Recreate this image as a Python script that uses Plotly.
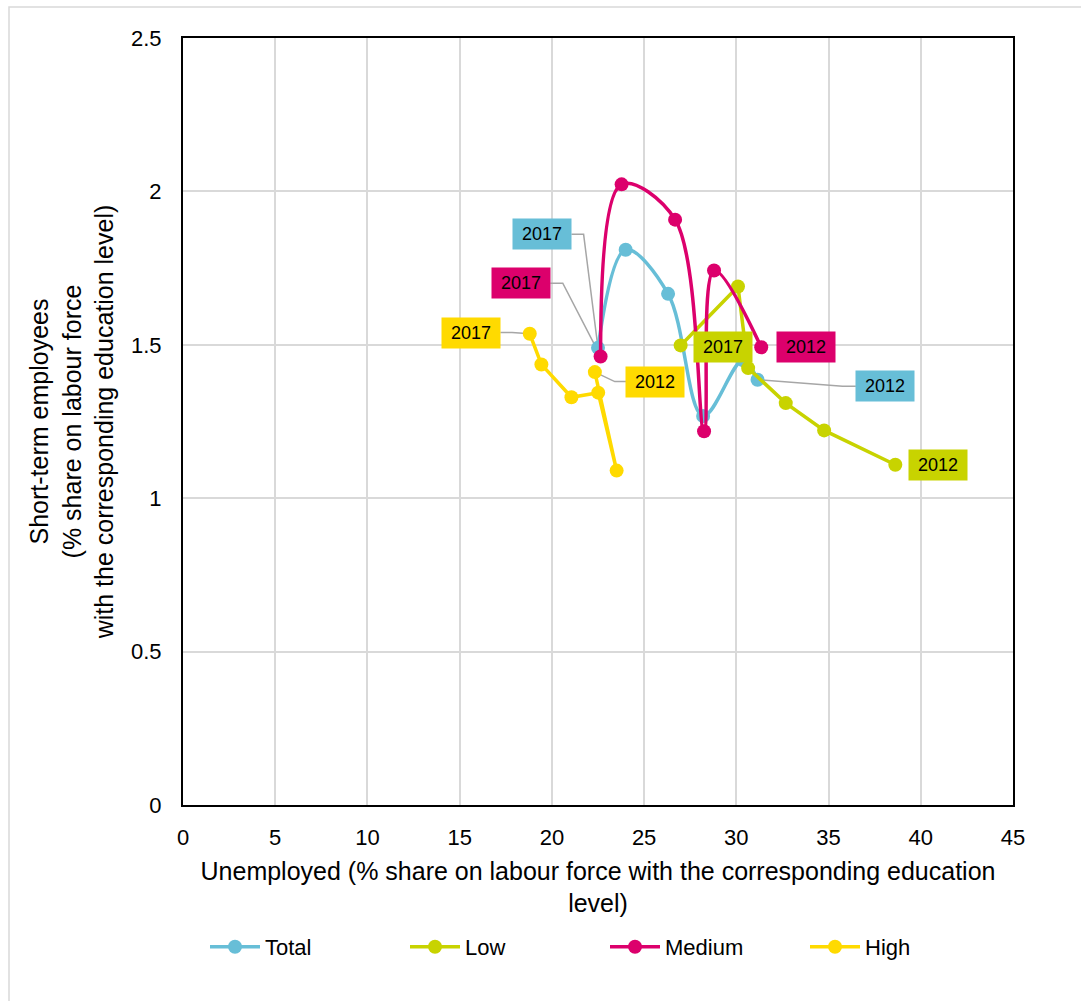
import plotly.graph_objects as go

# ---- data (years 2012 .. 2017) ----
years = [2012, 2013, 2014, 2015, 2016, 2017]
total_x = [31.15, 30.35, 28.2, 26.3, 24.0, 22.5]
total_y = [1.386, 1.45, 1.268, 1.666, 1.81, 1.49]
low_x = [38.62, 34.76, 32.68, 30.64, 30.09, 26.98]
low_y = [1.109, 1.221, 1.31, 1.424, 1.69, 1.498]
medium_x = [31.35, 28.79, 28.25, 26.68, 23.78, 22.64]
medium_y = [1.492, 1.742, 1.218, 1.908, 2.023, 1.462]
high_x = [22.33, 23.51, 22.51, 21.06, 19.43, 18.8]
high_y = [1.411, 1.090, 1.344, 1.329, 1.436, 1.536]

series_names = ["Total", "Low", "Medium", "High"]
colors = {"Total": "#67BED7", "Low": "#C8D300", "Medium": "#DC006C", "High": "#FFDA00"}
series = {
    "Total": (total_x, total_y, "spline"),
    "Low": (low_x, low_y, "linear"),
    "Medium": (medium_x, medium_y, "spline"),
    "High": (high_x, high_y, "linear"),
}

# data labels: series, year index, label centre (data coords), edge / elbow x
label_series = ["Total", "Medium", "High", "High", "Low", "Medium", "Total", "Low"]
label_idx = [5, 5, 5, 0, 5, 0, 0, 0]
label_x = [19.47, 18.33, 15.62, 25.59, 29.3, 33.77, 38.06, 40.93]
label_y = [1.86, 1.701, 1.540, 1.380, 1.492, 1.492, 1.365, 1.107]
label_edge_x = [21.06, 19.92, 17.21, 24.05, None, None, 36.48, None]
label_elbow_x = [21.72, 20.59, 17.84, 23.41, None, None, 35.76, None]

x_ticks = [0, 5, 10, 15, 20, 25, 30, 35, 40, 45]
y_ticks = [0, 0.5, 1, 1.5, 2, 2.5]
y_tick_text = ["0", "0.5", "1", "1.5", "2", "2.5"]

FONT = "Liberation Sans, Arial, sans-serif"

fig = go.Figure()

# leader lines (below the series)
for s, i, lx, ly, ex, bx in zip(label_series, label_idx, label_x, label_y,
                                label_edge_x, label_elbow_x):
    if ex is None:
        continue
    px, py = series[s][0][i], series[s][1][i]
    fig.add_trace(go.Scatter(
        x=[ex, bx, px], y=[ly, ly, py], mode="lines",
        line=dict(color="#A6A6A6", width=1.5), showlegend=False, hoverinfo="skip"))

for name in series_names:
    xs, ys, shape = series[name]
    fig.add_trace(go.Scatter(
        x=xs, y=ys, name=name, mode="lines+markers",
        text=[str(y) for y in years],
        line=dict(color=colors[name], width=3.5, shape=shape, smoothing=1.0),
        marker=dict(color=colors[name], size=14),
    ))

for s, i, lx, ly in zip(label_series, label_idx, label_x, label_y):
    fig.add_annotation(
        x=lx, y=ly, xref="x", yref="y", text=str(years[i]), showarrow=False,
        bgcolor=colors[s], font=dict(family=FONT, size=18, color="black"),
        width=50, height=22, borderpad=4,
    )

W, H = 1081, 1001
L, R, T, B = 183, 68, 38, 196
pw, ph = W - L - R, H - T - B
fig.add_shape(type="rect", xref="paper", yref="paper",
              x0=(9 - L) / pw, x1=(1200 - L) / pw,
              y0=(H - B - 1100) / ph, y1=(H - B - 7) / ph,
              line=dict(color="#D9D9D9", width=1.5), layer="below")

fig.update_layout(
    width=W, height=H,
    margin=dict(l=L, r=R, t=T, b=B, autoexpand=False),
    paper_bgcolor="white", plot_bgcolor="white",
    font=dict(family=FONT, size=22, color="black"),
    legend=dict(orientation="h", x=(205 - L) / pw, xanchor="left",
                y=(H - B - 926) / ph, yanchor="top",
                font=dict(family=FONT, size=22), itemwidth=50, entrywidth=135),
    xaxis=dict(range=[0, 45], tickvals=x_ticks, showgrid=True, gridcolor="#D9D9D9",
               gridwidth=1.5, showline=True, linecolor="black", linewidth=2,
               mirror=True, zeroline=False, ticks="outside", ticklen=12,
               tickcolor="rgba(0,0,0,0)", tickfont=dict(size=22),
               title=dict(text="Unemployed (% share on labour force with the corresponding education<br>level)",
                          font=dict(size=25), standoff=13)),
    yaxis=dict(range=[0, 2.5], tickvals=y_ticks, ticktext=y_tick_text, showgrid=True,
               gridcolor="#D9D9D9", gridwidth=1.5, showline=True, linecolor="black",
               linewidth=2, mirror=True, zeroline=False, ticks="outside", ticklen=15,
               tickcolor="rgba(0,0,0,0)", tickfont=dict(size=22),
               title=dict(text="Short-term employees<br>(% share on labour force<br>with the corresponding education level)",
                          font=dict(size=25), standoff=10)),
)

fig.write_html("out.html")
